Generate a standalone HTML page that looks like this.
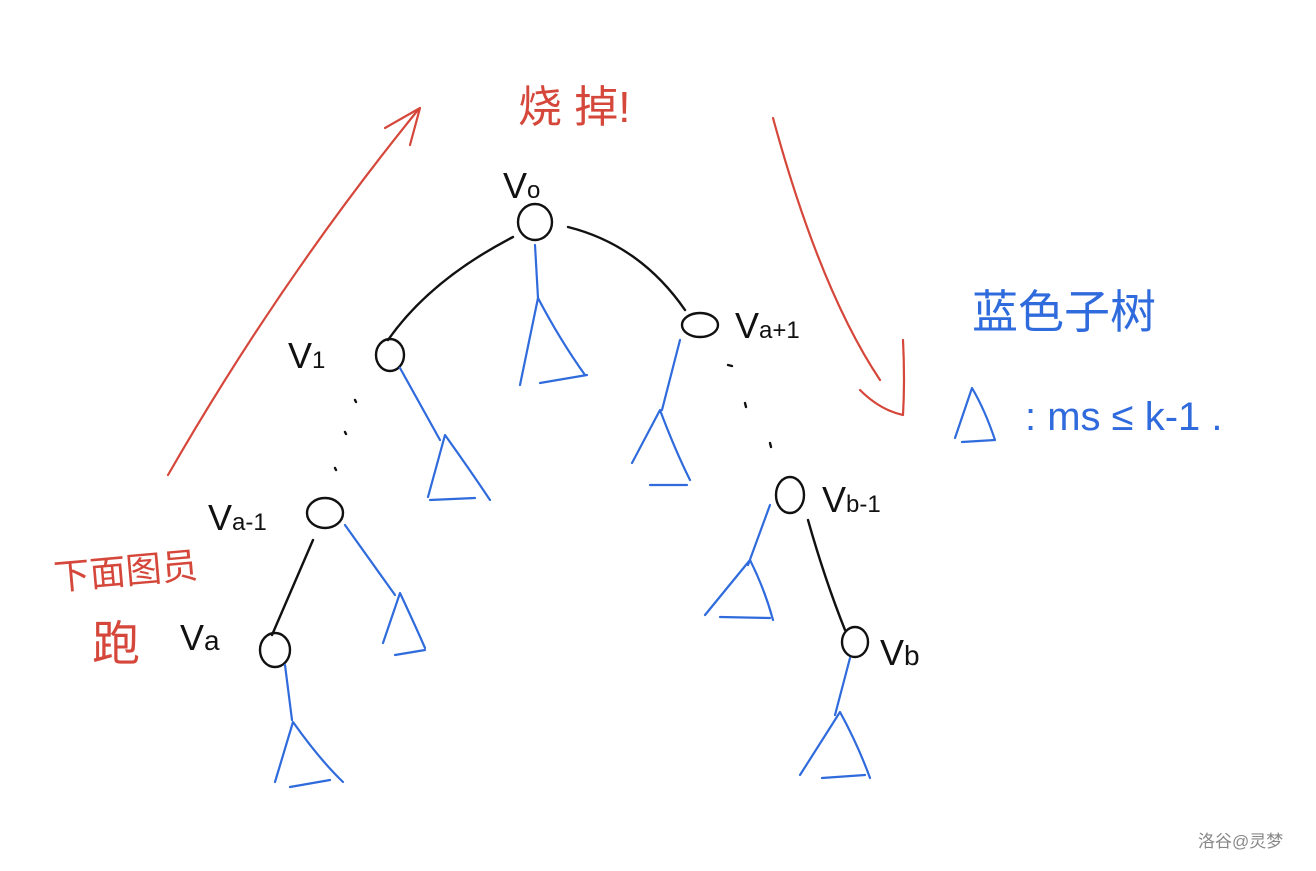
<!DOCTYPE html>
<html><head><meta charset="utf-8"><style>
html,body{margin:0;padding:0;background:#fff;}
svg{display:block;}
text{font-family:"Liberation Sans","Noto Sans CJK SC",sans-serif;}
</style></head><body>
<svg width="1316" height="871" viewBox="0 0 1316 871" xmlns="http://www.w3.org/2000/svg">
<g fill="none" stroke-linecap="round" stroke-linejoin="round">
<!-- red arrows -->
<g stroke="#d5473a" stroke-width="2.2">
<path d="M168,475 Q280,280 418,110"/>
<path d="M385,128 L420,108 L410,145"/>
<path d="M773,118 Q820,290 880,380"/>
<path d="M860,390 Q880,410 903,415 Q905,380 903,340"/>
</g>
<!-- black nodes/edges -->
<g stroke="#111" stroke-width="2.4">
<ellipse cx="535" cy="222" rx="17" ry="18"/>
<path d="M513,237 Q430,280 388,340"/>
<path d="M568,227 Q640,245 685,310"/>
<ellipse cx="390" cy="355" rx="14" ry="16"/>
<ellipse cx="700" cy="325" rx="18" ry="12"/>
<ellipse cx="325" cy="513" rx="18" ry="15"/>
<path d="M313,540 L272,635"/>
<ellipse cx="275" cy="650" rx="15" ry="17"/>
<ellipse cx="790" cy="495" rx="14" ry="18"/>
<path d="M808,520 Q825,580 845,630"/>
<ellipse cx="855" cy="642" rx="13" ry="15"/>
<path d="M355,400 l1,2 M345,432 l1,2 M335,468 l1,2 M728,365 l4,1 M745,403 l1,4 M770,443 l1,4"/>
</g>
<!-- blue subtrees -->
<g stroke="#2f6bdc" stroke-width="2.2">
<path d="M535,245 L538,298 M520,385 L538,298 Q560,340 585,375 M540,383 L587,375"/>
<path d="M400,368 L440,440 M428,497 L445,435 Q470,470 490,500 M430,500 L475,498"/>
<path d="M680,340 L662,410 M632,463 L660,410 Q675,450 690,480 M650,485 L687,485"/>
<path d="M345,525 L395,595 M383,643 L400,593 Q415,625 425,648 M395,655 L425,650"/>
<path d="M285,665 L292,720 M275,782 L293,722 Q320,760 343,782 M290,787 L330,780"/>
<path d="M770,505 L748,565 M705,615 L750,560 Q765,590 773,620 M720,617 L770,618"/>
<path d="M850,658 L835,715 M800,775 L840,712 Q858,745 870,778 M822,778 L865,775"/>
<path d="M955,438 L972,388 Q985,410 995,440 M962,442 L995,440"/>
</g>
</g>
<!-- labels -->
<g fill="#111" font-size="36">
<text x="503" y="198">V<tspan font-size="24">o</tspan></text>
<text x="288" y="368">V<tspan font-size="24">1</tspan></text>
<text x="735" y="338">V<tspan font-size="24">a+1</tspan></text>
<text x="208" y="530">V<tspan font-size="24">a-1</tspan></text>
<text x="180" y="650">V<tspan font-size="28">a</tspan></text>
<text x="822" y="512">V<tspan font-size="24">b-1</tspan></text>
<text x="880" y="665">V<tspan font-size="28">b</tspan></text>
</g>
<text x="518" y="122" font-size="44" fill="#d5473a" font-family="Liberation Sans,Noto Sans CJK SC,sans-serif">烧 掉!</text>
<text x="55" y="590" font-size="36" fill="#d5473a" transform="rotate(-5 55 590)">下面图员</text>
<text x="92" y="660" font-size="48" fill="#d5473a">跑</text>
<text x="972" y="328" font-size="46" fill="#2f6bdc">蓝色子树</text>
<text x="1025" y="430" font-size="40" fill="#2f6bdc">: ms ≤ k-1 .</text>
<text x="1198" y="847" font-size="17" fill="#888">洛谷@灵梦</text>
</svg>
</body></html>
